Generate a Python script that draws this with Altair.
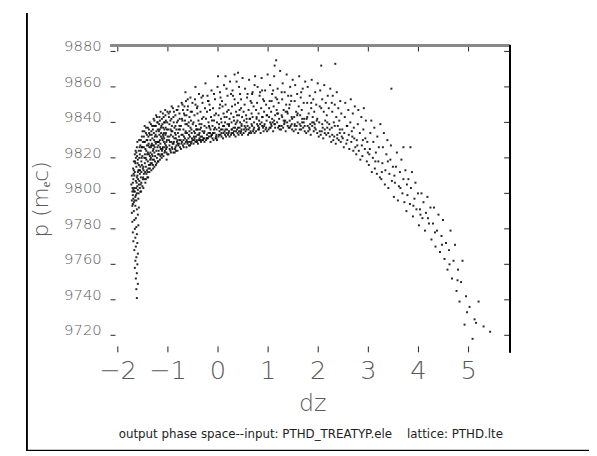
import altair as alt
import pandas as pd

# ---- data ----
tail = [(-1.62,9741),(-1.63,9746),(-1.60,9749),(-1.64,9752),(-1.62,9755),(-1.66,9758),(-1.61,9760),
        (-1.65,9762),(-1.63,9764),(-1.60,9766),(-1.67,9768),(-1.64,9770),(-1.61,9772),(-1.69,9773),
        (-1.65,9775),(-1.62,9777),(-1.70,9778),(-1.66,9780),(-1.63,9781),(-1.59,9782),(-1.71,9784),
        (-1.67,9785),(-1.64,9786),(-1.60,9788),(-1.72,9789),(-1.68,9790),(-1.62,9791),(-1.58,9792),
        (-1.65,9793),(-1.70,9794)]

left_a = [(-1.72,9796),(-1.71,9801),(-1.73,9805),(-1.70,9799),(-1.69,9808),(-1.68,9795),(-1.67,9803),
          (-1.66,9812),(-1.65,9798),(-1.64,9807),(-1.63,9815),(-1.62,9800),(-1.61,9810),(-1.60,9819),
          (-1.59,9797),(-1.58,9805),(-1.57,9813),(-1.56,9822),(-1.55,9801),(-1.54,9809),(-1.53,9818),
          (-1.52,9826),(-1.51,9804),(-1.50,9814),(-1.71,9793),(-1.69,9802),(-1.67,9810),(-1.65,9817),
          (-1.63,9796),(-1.61,9804),(-1.59,9813),(-1.57,9820),(-1.55,9827),(-1.53,9806),(-1.51,9821),
          (-1.70,9806),(-1.68,9813),(-1.66,9801),(-1.64,9820),(-1.62,9809),(-1.60,9802),(-1.58,9824),
          (-1.56,9811),(-1.54,9830),(-1.52,9816),(-1.50,9808),(-1.72,9810),(-1.68,9818),(-1.64,9799),
          (-1.60,9812),(-1.56,9803),(-1.52,9832),(-1.66,9822),(-1.62,9826),(-1.58,9816),(-1.54,9824),
          (-1.50,9829),(-1.69,9797),(-1.63,9823),(-1.57,9807),(-1.53,9812),(-1.61,9829),(-1.55,9815)]

left_b = [(-1.49,9803),(-1.48,9811),(-1.47,9820),(-1.46,9829),(-1.45,9806),(-1.44,9815),(-1.43,9824),
          (-1.42,9833),(-1.41,9809),(-1.40,9818),(-1.39,9827),(-1.38,9836),(-1.37,9812),(-1.36,9821),
          (-1.35,9830),(-1.34,9839),(-1.33,9813),(-1.32,9822),(-1.31,9831),(-1.30,9816),(-1.29,9825),
          (-1.28,9834),(-1.27,9841),(-1.26,9818),(-1.49,9815),(-1.47,9808),(-1.45,9825),(-1.43,9811),
          (-1.41,9830),(-1.39,9814),(-1.37,9826),(-1.35,9816),(-1.33,9835),(-1.31,9819),(-1.29,9838),
          (-1.27,9823),(-1.25,9829),(-1.48,9826),(-1.46,9817),(-1.44,9834),(-1.42,9813),(-1.40,9823),
          (-1.38,9816),(-1.36,9833),(-1.34,9820),(-1.32,9828),(-1.30,9836),(-1.28,9819),(-1.26,9832),
          (-1.48,9832),(-1.44,9808),(-1.40,9837),(-1.36,9814),(-1.32,9817),(-1.28,9827),(-1.46,9822),
          (-1.42,9827),(-1.38,9822),(-1.34,9826),(-1.30,9824),(-1.26,9838),(-1.47,9835),(-1.43,9819),
          (-1.39,9832),(-1.35,9823),(-1.31,9827),(-1.27,9815)]

left_c = [(-1.24,9816),(-1.23,9824),(-1.22,9832),(-1.21,9840),(-1.20,9818),(-1.19,9827),(-1.18,9835),
          (-1.17,9843),(-1.16,9819),(-1.15,9828),(-1.14,9837),(-1.13,9822),(-1.12,9831),(-1.11,9839),
          (-1.10,9845),(-1.09,9821),(-1.08,9829),(-1.07,9836),(-1.06,9824),(-1.05,9833),(-1.04,9841),
          (-1.03,9823),(-1.02,9830),(-1.01,9846),(-1.24,9828),(-1.22,9820),(-1.20,9836),(-1.18,9822),
          (-1.16,9830),(-1.14,9825),(-1.12,9842),(-1.10,9826),(-1.08,9834),(-1.06,9840),(-1.04,9827),
          (-1.02,9836),(-1.23,9835),(-1.21,9826),(-1.19,9818),(-1.17,9833),(-1.15,9821),(-1.13,9838),
          (-1.11,9825),(-1.09,9832),(-1.07,9823),(-1.05,9844),(-1.03,9829),(-1.01,9822),(-1.24,9838),
          (-1.20,9829),(-1.16,9841),(-1.12,9824),(-1.08,9840),(-1.04,9834),(-1.22,9843),(-1.18,9829),
          (-1.14,9832),(-1.10,9833),(-1.06,9828),(-1.02,9826)]

left_extra = [(-1.705,9803),(-1.685,9811),(-1.665,9796),(-1.645,9824),(-1.625,9806),(-1.605,9817),
              (-1.585,9800),(-1.565,9826),(-1.545,9805),(-1.525,9820),(-1.505,9835),(-1.485,9813),
              (-1.465,9838),(-1.445,9820),(-1.425,9830),(-1.405,9812),(-1.385,9828),(-1.365,9840),
              (-1.345,9817),(-1.325,9833),(-1.305,9821),(-1.285,9842),(-1.265,9826),(-1.245,9833),
              (-1.225,9817),(-1.205,9840),(-1.185,9824),(-1.165,9836),(-1.145,9846),(-1.125,9820),
              (-1.105,9830),(-1.085,9843),(-1.065,9826),(-1.045,9837),(-1.025,9819),(-1.005,9832),
              (-0.985,9845),(-0.965,9825),(-0.945,9836),(-0.925,9849),(-0.905,9828),(-0.885,9840),
              (-0.865,9823),(-0.845,9833),(-0.825,9847),(-0.805,9828),(-0.785,9836),(-0.765,9842),
              (-0.745,9830),(-0.725,9851),(-0.705,9833),(-0.685,9826),(-0.665,9844),(-0.645,9835),
              (-0.625,9830),(-0.605,9853),(-0.585,9840),(-0.565,9829),(-0.545,9846),(-0.525,9834),
              (-0.505,9839),
              (-1.695,9814),(-1.675,9801),(-1.655,9818),(-1.635,9803),(-1.615,9821),(-1.595,9808),
              (-1.575,9830),(-1.555,9813),(-1.535,9801),(-1.515,9826),(-1.495,9809),(-1.475,9829),
              (-1.455,9812),(-1.435,9837),(-1.415,9822),(-1.395,9809),(-1.375,9834),(-1.355,9819),
              (-1.335,9827),(-1.315,9838),(-1.295,9814),(-1.275,9830),(-1.255,9821),(-1.235,9844),
              (-1.215,9829),(-1.195,9822),(-1.175,9839),(-1.155,9826),(-1.135,9834),(-1.115,9822),
              (-1.095,9837),(-1.075,9831),(-1.055,9847),(-1.035,9825),(-1.015,9840)]

center_a = [(-0.99,9822),(-0.98,9830),(-0.97,9839),(-0.96,9846),(-0.95,9824),(-0.94,9833),(-0.93,9842),
            (-0.92,9826),(-0.91,9835),(-0.90,9848),(-0.89,9823),(-0.88,9829),(-0.87,9837),(-0.86,9825),
            (-0.85,9844),(-0.84,9831),(-0.83,9827),(-0.82,9840),(-0.81,9824),(-0.80,9834),(-0.79,9849),
            (-0.78,9828),(-0.77,9838),(-0.76,9826),(-0.99,9836),(-0.97,9827),(-0.95,9841),(-0.93,9829),
            (-0.91,9825),(-0.89,9843),(-0.87,9831),(-0.85,9826),(-0.83,9836),(-0.81,9830),(-0.79,9827),
            (-0.77,9845),(-0.98,9843),(-0.96,9829),(-0.94,9823),(-0.92,9838),(-0.90,9832),(-0.88,9846),
            (-0.86,9834),(-0.84,9824),(-0.82,9829),(-0.80,9841),(-0.78,9832),(-0.76,9836),(-0.97,9832),
            (-0.93,9835),(-0.89,9828),(-0.85,9838),(-0.81,9847),(-0.77,9830),
            (-0.74,9825),(-0.73,9833),(-0.72,9842),(-0.71,9850),(-0.70,9827),(-0.69,9836),(-0.68,9845),
            (-0.67,9828),(-0.66,9831),(-0.65,9839),(-0.64,9852),(-0.63,9826),(-0.62,9834),(-0.61,9847),
            (-0.60,9829),(-0.59,9838),(-0.58,9827),(-0.57,9843),(-0.56,9832),(-0.55,9854),(-0.54,9828),
            (-0.53,9836),(-0.52,9846),(-0.51,9830),(-0.74,9838),(-0.72,9829),(-0.70,9847),(-0.68,9832),
            (-0.66,9841),(-0.64,9829),(-0.62,9839),(-0.60,9849),(-0.58,9833),(-0.56,9827),(-0.54,9841),
            (-0.52,9831),(-0.73,9828),(-0.69,9830),(-0.65,9834),(-0.61,9828),(-0.57,9835),(-0.53,9829),
            (-0.71,9841),(-0.67,9849),(-0.63,9844),(-0.59,9831),(-0.55,9837),(-0.51,9851),(-0.65,9857)]

center_b = [(-0.49,9828),(-0.48,9835),(-0.47,9844),(-0.46,9853),(-0.45,9829),(-0.44,9838),(-0.43,9830),
            (-0.42,9848),(-0.41,9833),(-0.40,9828),(-0.39,9841),(-0.38,9856),(-0.37,9831),(-0.36,9836),
            (-0.35,9846),(-0.34,9829),(-0.33,9839),(-0.32,9832),(-0.31,9851),(-0.30,9830),(-0.29,9843),
            (-0.28,9834),(-0.27,9829),(-0.26,9848),(-0.49,9840),(-0.47,9831),(-0.45,9850),(-0.43,9836),
            (-0.41,9845),(-0.39,9830),(-0.37,9839),(-0.35,9832),(-0.33,9854),(-0.31,9835),(-0.29,9831),
            (-0.27,9838),(-0.48,9830),(-0.44,9832),(-0.40,9836),(-0.36,9830),(-0.32,9842),(-0.28,9831),
            (-0.46,9834),(-0.42,9829),(-0.38,9833),(-0.34,9837),(-0.30,9855),(-0.45,9860),(-0.25,9862),
            (-0.24,9830),(-0.23,9837),(-0.22,9846),(-0.21,9855),(-0.20,9831),(-0.19,9840),(-0.18,9832),
            (-0.17,9850),(-0.16,9834),(-0.15,9829),(-0.14,9843),(-0.13,9858),(-0.12,9833),(-0.11,9838),
            (-0.10,9848),(-0.09,9830),(-0.08,9841),(-0.07,9834),(-0.06,9853),(-0.05,9831),(-0.04,9845),
            (-0.03,9836),(-0.02,9830),(-0.01,9860),(-0.24,9842),(-0.22,9833),(-0.20,9852),(-0.18,9838),
            (-0.16,9847),(-0.14,9832),(-0.12,9841),(-0.10,9834),(-0.08,9856),(-0.06,9837),(-0.04,9832),
            (-0.02,9840),(-0.23,9831),(-0.19,9834),(-0.15,9836),(-0.11,9831),(-0.07,9844),(-0.03,9833),
            (0.00,9866)]

center_c = [(0.01,9832),(0.02,9839),(0.03,9848),(0.04,9857),(0.05,9833),(0.06,9842),(0.07,9834),
            (0.08,9852),(0.09,9836),(0.10,9831),(0.11,9845),(0.12,9861),(0.13,9835),(0.14,9840),
            (0.15,9850),(0.16,9832),(0.17,9843),(0.18,9836),(0.19,9855),(0.20,9833),(0.21,9847),
            (0.22,9838),(0.23,9832),(0.24,9863),(0.01,9844),(0.03,9835),(0.05,9854),(0.07,9840),
            (0.09,9849),(0.11,9834),(0.13,9843),(0.15,9836),(0.17,9859),(0.19,9839),(0.21,9834),
            (0.23,9842),(0.02,9833),(0.06,9836),(0.10,9838),(0.14,9833),(0.18,9846),(0.22,9835),
            (0.15,9866),
            (0.26,9833),(0.27,9840),(0.28,9849),(0.29,9858),(0.30,9834),(0.31,9843),(0.32,9835),
            (0.33,9853),(0.34,9837),(0.35,9832),(0.36,9846),(0.37,9863),(0.38,9836),(0.39,9841),
            (0.40,9851),(0.41,9833),(0.42,9844),(0.43,9837),(0.44,9856),(0.45,9834),(0.46,9848),
            (0.47,9839),(0.48,9833),(0.49,9865),(0.26,9845),(0.28,9836),(0.30,9855),(0.32,9841),
            (0.34,9850),(0.36,9835),(0.38,9844),(0.40,9837),(0.42,9860),(0.44,9840),(0.46,9835),
            (0.48,9843),(0.27,9834),(0.31,9837),(0.35,9839),(0.39,9834),(0.43,9847),(0.47,9836),
            (0.33,9867),(0.40,9868)]

center_d = [(0.51,9834),(0.52,9841),(0.53,9850),(0.54,9859),(0.55,9835),(0.56,9844),(0.57,9836),
            (0.58,9854),(0.59,9838),(0.60,9833),(0.61,9847),(0.62,9864),(0.63,9837),(0.64,9842),
            (0.65,9852),(0.66,9834),(0.67,9845),(0.68,9838),(0.69,9857),(0.70,9835),(0.71,9849),
            (0.72,9840),(0.73,9834),(0.74,9866),(0.51,9846),(0.55,9837),(0.59,9856),(0.63,9842),
            (0.67,9851),(0.71,9836),(0.53,9838),(0.57,9840),(0.61,9836),(0.65,9835),(0.69,9843),
            (0.73,9861),
            (0.76,9835),(0.77,9842),(0.78,9851),(0.79,9860),(0.80,9836),(0.81,9845),(0.82,9837),
            (0.83,9855),(0.84,9839),(0.85,9834),(0.86,9848),(0.87,9865),(0.88,9838),(0.89,9843),
            (0.90,9853),(0.91,9835),(0.92,9846),(0.93,9839),(0.94,9858),(0.95,9836),(0.96,9850),
            (0.97,9841),(0.98,9835),(0.99,9867),(0.76,9847),(0.80,9838),(0.84,9857),(0.88,9843),
            (0.92,9852),(0.96,9837),(0.78,9839),(0.82,9841),(0.90,9837),(0.98,9844)]

band_extra = [(-0.48,9832),(-0.43,9836),(-0.37,9834),(-0.33,9830),(-0.27,9835),(-0.22,9831),
              (-0.17,9837),(-0.13,9833),(-0.08,9836),(-0.03,9831),(0.02,9837),(0.07,9832),
              (0.12,9838),(0.17,9834),(0.22,9839),(0.27,9836),(0.32,9833),(0.37,9840),
              (0.42,9835),(0.47,9838),(0.52,9836),(0.57,9842),(0.62,9834),(0.67,9839),
              (0.72,9837),(0.77,9843),(0.82,9836),(0.87,9840),(0.92,9838),(0.97,9844),
              (1.03,9837),(1.08,9842),(1.13,9839),(1.18,9845),(1.23,9838),(1.28,9843),
              (1.33,9840),(1.38,9846),(1.43,9837),(1.48,9842),(1.53,9839),(1.58,9844),
              (1.63,9836),(1.68,9842),(1.73,9838),(1.78,9843),(1.83,9836),(1.88,9840),
              (1.93,9837),(1.98,9842),(2.03,9835),(2.08,9839),(2.13,9834),(2.18,9840),
              (2.23,9836),(2.28,9833),(2.33,9838),(2.38,9831),(2.43,9836),(2.47,9832),
              (-0.41,9849),(-0.19,9852),(0.04,9850),(0.26,9856),(0.46,9853),(0.68,9856),
              (0.88,9858),(1.07,9852),(1.27,9857),(1.46,9855),(1.66,9857),(1.86,9851),
              (2.06,9848),(2.27,9851)]

right_a = [(1.01,9836),(1.02,9843),(1.03,9852),(1.04,9861),(1.05,9837),(1.06,9846),(1.07,9838),
           (1.08,9856),(1.09,9840),(1.10,9835),(1.11,9849),(1.12,9866),(1.13,9839),(1.14,9844),
           (1.15,9854),(1.16,9875),(1.17,9847),(1.18,9840),(1.19,9859),(1.20,9837),(1.21,9851),
           (1.22,9842),(1.23,9836),(1.24,9869),(1.02,9848),(1.06,9839),(1.10,9858),(1.14,9837),
           (1.18,9853),(1.22,9838),(1.04,9840),(1.12,9841),(1.20,9845),(1.13,9872),
           (1.26,9836),(1.27,9844),(1.28,9853),(1.29,9862),(1.30,9837),(1.31,9847),(1.32,9839),
           (1.33,9857),(1.34,9841),(1.35,9835),(1.36,9850),(1.37,9867),(1.38,9840),(1.39,9845),
           (1.40,9855),(1.41,9837),(1.42,9848),(1.43,9841),(1.44,9860),(1.45,9838),(1.46,9852),
           (1.47,9843),(1.48,9836),(1.49,9864),(1.27,9838),(1.31,9841),(1.35,9846),(1.39,9838),
           (1.43,9850),(1.47,9839)]

right_b = [(1.51,9835),(1.52,9843),(1.53,9852),(1.54,9861),(1.55,9836),(1.56,9846),(1.57,9838),
           (1.58,9856),(1.59,9840),(1.60,9834),(1.61,9849),(1.62,9866),(1.63,9839),(1.64,9844),
           (1.65,9854),(1.66,9836),(1.67,9847),(1.68,9840),(1.69,9859),(1.70,9837),(1.71,9851),
           (1.72,9842),(1.73,9835),(1.74,9863),(1.53,9838),(1.59,9845),(1.65,9838),(1.71,9840),
           (1.76,9834),(1.77,9842),(1.78,9851),(1.79,9860),(1.80,9835),(1.81,9845),(1.82,9837),
           (1.83,9855),(1.84,9839),(1.85,9833),(1.86,9848),(1.87,9864),(1.88,9838),(1.89,9843),
           (1.90,9853),(1.91,9835),(1.92,9846),(1.93,9839),(1.94,9857),(1.95,9836),(1.96,9850),
           (1.97,9841),(1.98,9834),(1.99,9862),(1.79,9838),(1.91,9840)]

right_c = [(2.01,9832),(2.02,9840),(2.03,9849),(2.04,9858),(2.05,9833),(2.06,9872),(2.07,9835),
           (2.08,9853),(2.09,9837),(2.10,9831),(2.11,9846),(2.12,9861),(2.13,9836),(2.14,9841),
           (2.15,9851),(2.16,9833),(2.17,9844),(2.18,9837),(2.19,9855),(2.20,9834),(2.21,9848),
           (2.22,9839),(2.23,9832),(2.24,9859),
           (2.26,9829),(2.27,9837),(2.28,9846),(2.29,9855),(2.30,9830),(2.31,9840),(2.32,9832),
           (2.33,9850),(2.34,9873),(2.35,9828),(2.36,9843),(2.37,9857),(2.38,9833),(2.39,9838),
           (2.40,9848),(2.41,9830),(2.42,9841),(2.43,9834),(2.44,9852),(2.45,9829),(2.46,9845),
           (2.48,9836),(2.49,9831),
           (2.51,9826),(2.52,9834),(2.53,9843),(2.54,9851),(2.56,9828),(2.57,9838),(2.58,9830),
           (2.60,9847),(2.61,9833),(2.62,9825),(2.64,9840),(2.65,9853),(2.66,9829),(2.67,9835),
           (2.69,9845),(2.70,9824),(2.71,9837),(2.72,9831),(2.73,9849),(2.74,9826),
           (2.76,9822),(2.77,9830),(2.79,9839),(2.80,9847),(2.81,9824),(2.83,9834),(2.84,9819),
           (2.86,9843),(2.87,9827),(2.88,9821),(2.90,9836),(2.91,9848),(2.93,9825),(2.94,9831),
           (2.95,9841),(2.97,9818),(2.98,9829),(2.99,9823),
           (2.58,9838),(2.68,9832),(2.78,9827),(2.89,9830)]

far_right = [(3.01,9816),(3.03,9825),(3.04,9834),(3.06,9841),(3.07,9812),(3.09,9820),(3.10,9829),
             (3.12,9837),(3.13,9814),(3.15,9823),(3.17,9811),(3.18,9832),(3.20,9818),(3.21,9826),
             (3.23,9809),(3.24,9839),
             (3.26,9808),(3.28,9817),(3.29,9826),(3.31,9834),(3.33,9805),(3.34,9813),(3.36,9822),
             (3.38,9830),(3.40,9803),(3.42,9811),(3.44,9819),(3.45,9827),(3.47,9807),(3.49,9815),
             (3.46,9859),
             (3.51,9798),(3.53,9806),(3.55,9815),(3.57,9823),(3.59,9796),(3.61,9804),(3.63,9812),
             (3.66,9819),(3.68,9800),(3.70,9808),(3.72,9795),(3.74,9813),(3.70,9826),
             (3.76,9790),(3.78,9799),(3.80,9808),(3.83,9794),(3.85,9803),(3.87,9812),(3.89,9787),
             (3.92,9797),(3.94,9806),(3.96,9791),(3.99,9800),(3.84,9826),
             (4.01,9782),(4.03,9791),(4.06,9800),(4.08,9786),(4.10,9795),(4.13,9779),(4.15,9789),
             (4.18,9798),(4.21,9783),(4.24,9792),
             (4.26,9774),(4.29,9783),(4.31,9792),(4.34,9770),(4.37,9779),(4.40,9788),(4.43,9767),
             (4.46,9776),(4.49,9785),
             (4.52,9763),(4.55,9772),(4.58,9757),(4.61,9768),(4.64,9779),(4.67,9752),(4.70,9762),
             (4.73,9771),
             (4.76,9745),(4.79,9757),(4.82,9739),(4.85,9750),(4.88,9762),(4.92,9726),(4.95,9742),
             (4.97,9733),
             (5.02,9736),(5.08,9718),(5.12,9729),(5.15,9727),(5.20,9739),(5.30,9725),(5.43,9722),
             (3.02,9822),(3.14,9818),(3.27,9812),(3.39,9818),(3.52,9810),(3.64,9803),(3.77,9805),
             (3.90,9793),(4.04,9788),(4.19,9786),(4.33,9778),(4.47,9771),(4.62,9760),(4.78,9751)]

x_ticks = [-2, -1, 0, 1, 2, 3, 4, 5]
x_tick_labels = ["\u22122", "\u22121", "0", "1", "2", "3", "4", "5"]
y_ticks = [9720, 9740, 9760, 9780, 9800, 9820, 9840, 9860, 9880]
y_tick_labels = ["9720", "9740", "9760", "9780", "9800", "9820", "9840", "9860", "9880"]
x_domain = [-2.144, 5.829]
y_domain = [9710.4, 9883.3]
x_title = "dz"
y_title = "p (m\u2091c)"
caption = "output phase space--input: PTHD_TREATYP.ele\u00a0\u00a0\u00a0\u00a0lattice: PTHD.lte"

# ---- build ----
W, H = 405, 311
all_pts = (tail + left_a + left_b + left_c + left_extra + center_a + center_b + center_c
           + center_d + band_extra + right_a + right_b + right_c + far_right)
pts = pd.DataFrame(all_pts, columns=["dz", "p"])

xs = alt.Scale(domain=x_domain, nice=False, zero=False)
ys = alt.Scale(domain=y_domain, nice=False, zero=False)
FONT = "DejaVu Sans"
GRAY = "#5a5a5a"

points = alt.Chart(pts).mark_square(size=4, color="black", opacity=0.85).encode(
    x=alt.X("dz:Q", scale=xs, axis=alt.Axis(labels=False, ticks=False, title=None, grid=False,
                                            domainColor="black", domainWidth=1)),
    y=alt.Y("p:Q", scale=ys, axis=alt.Axis(labels=False, ticks=False, title=None, grid=False,
                                           domainColor="black", domainWidth=1)),
)

xt = pd.DataFrame({"dz": x_ticks, "lab": x_tick_labels})
yt = pd.DataFrame({"p": y_ticks, "lab": y_tick_labels})

bottom_ticks = alt.Chart(xt).mark_rule(color="#222222", strokeWidth=1).encode(
    x=alt.X("dz:Q", scale=xs, axis=None), y=alt.value(H - 6), y2=alt.value(H))
top_ticks = alt.Chart(xt).mark_rule(color="#222222", strokeWidth=1).encode(
    x=alt.X("dz:Q", scale=xs, axis=None), y=alt.value(0), y2=alt.value(6))
left_ticks = alt.Chart(yt).mark_rule(color="#222222", strokeWidth=1).encode(
    y=alt.Y("p:Q", scale=ys, axis=None), x=alt.value(0), x2=alt.value(5))
right_ticks = alt.Chart(yt).mark_rule(color="#222222", strokeWidth=1).encode(
    y=alt.Y("p:Q", scale=ys, axis=None), x=alt.value(W - 6), x2=alt.value(W))

x_labels = alt.Chart(xt).mark_text(font=FONT, fontSize=26, fontWeight=300, color=GRAY,
                                   align="center", baseline="middle").encode(
    x=alt.X("dz:Q", scale=xs, axis=None), y=alt.value(H + 19), text="lab:N")
y_labels = alt.Chart(yt).mark_text(font=FONT, fontSize=15, fontWeight=300, color=GRAY,
                                   align="right", baseline="alphabetic").encode(
    y=alt.Y("p:Q", scale=ys, axis=None), x=alt.value(-9), text="lab:N")

titles = pd.DataFrame({"t": [x_title, y_title, caption]})
x_title_mark = alt.Chart(titles).transform_filter(alt.datum.t == x_title).mark_text(
    font=FONT, fontSize=24, fontWeight=300, color=GRAY, align="center", baseline="middle").encode(
    text="t:N", x=alt.value(205), y=alt.value(363))
y_title_mark = alt.Chart(titles).transform_filter(alt.datum.t == y_title).mark_text(
    font=FONT, fontSize=22, fontWeight=300, color=GRAY, align="center", baseline="middle",
    angle=270).encode(text="t:N", x=alt.value(-70), y=alt.value(156))
cap = alt.Chart(titles).transform_filter(alt.datum.t == caption).mark_text(
    font=FONT, fontSize=12, color="#222222", align="center", baseline="middle").encode(
    text="t:N", x=alt.value(203), y=alt.value(394))

top_line = alt.Chart(xt).mark_rule(color="#888888", strokeWidth=2).encode(
    x=alt.value(0), x2=alt.value(W), y=alt.value(0))
right_line = alt.Chart(xt).mark_rule(color="black", strokeWidth=1.5).encode(
    x=alt.value(W), y=alt.value(0), y2=alt.value(H))
frame_left = alt.Chart(xt).mark_rule(color="black", strokeWidth=1).encode(
    x=alt.value(-85), y=alt.value(-33), y2=alt.value(410.5))
frame_bottom = alt.Chart(xt).mark_rule(color="black", strokeWidth=1).encode(
    x=alt.value(-85), x2=alt.value(485), y=alt.value(410.5))

chart = alt.layer(
    points, bottom_ticks, top_ticks, left_ticks, right_ticks,
    x_labels, y_labels, x_title_mark, y_title_mark, cap,
    top_line, right_line, frame_left, frame_bottom
).properties(
    width=W, height=H,
    padding={"left": 104, "top": 35, "right": 80, "bottom": 100},
    autosize=alt.AutoSizeParams(type="none"),
    background="white",
).configure_view(stroke=None)

chart.save("out.html", embed_options={"renderer": "svg", "actions": False})
